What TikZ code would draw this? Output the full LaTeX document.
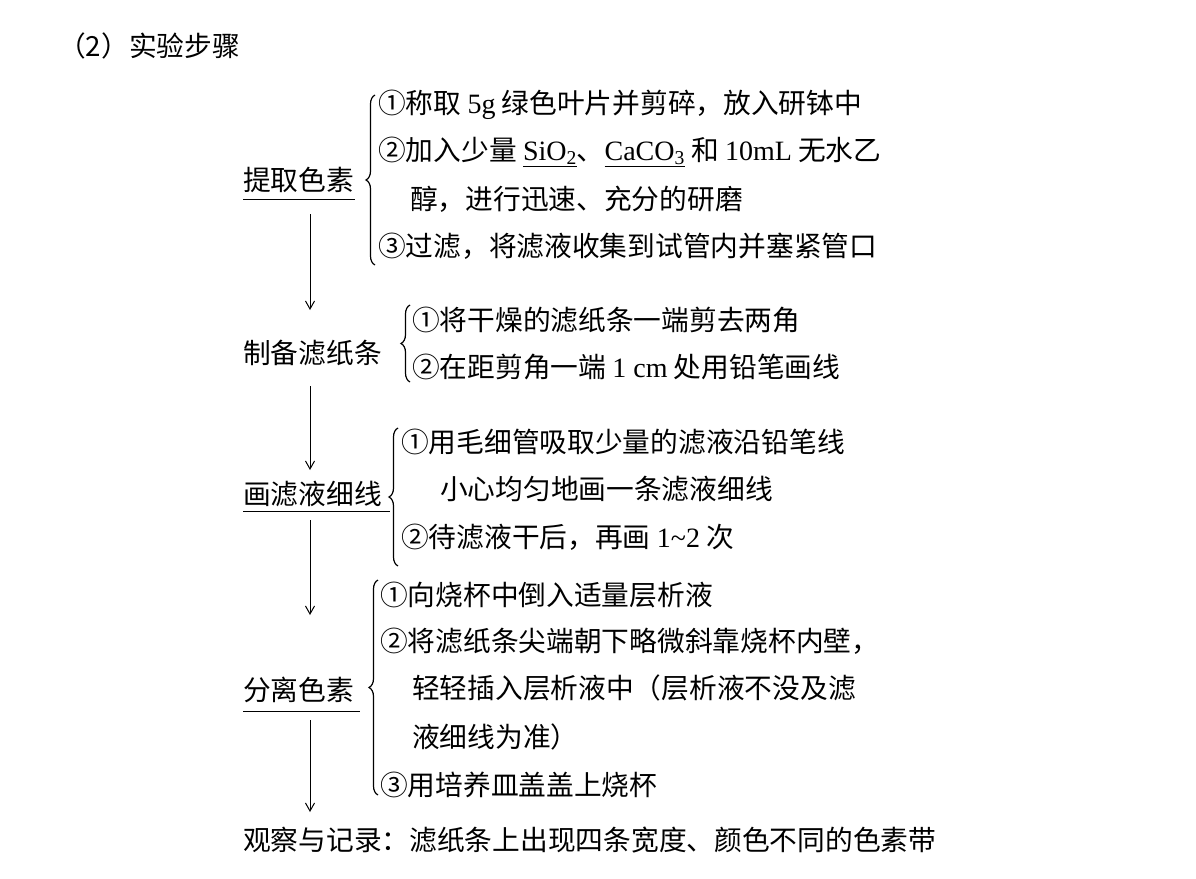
\documentclass[tikz,border=0pt]{standalone}
\usepackage{fontspec}
\setmainfont{Liberation Serif}
\newfontfamily\cjk{Noto Sans CJK SC}[Scale=0.99]
\usetikzlibrary{arrows.meta,decorations.pathreplacing}
\begin{document}
\begin{tikzpicture}[x=1pt,y=-1pt,
 t/.style={anchor=west,inner sep=0pt,font=\fontsize{28}{32}\selectfont\cjk},
 br/.style={decorate,decoration={brace,amplitude=9pt,mirror},line width=1.2pt},
 ar/.style={-{Straight Barb[length=8pt,width=9pt]},line width=1pt},
 ul/.style={line width=1pt}]
\useasboundingbox (0,0) rectangle (1196,878);
\node[t] (h) at (58,46) {（2）实验步骤};
% step 1
\node[t] (s1) at (243,180) {提取色素};
\draw[ul] (243,199) -- (355,199);
\draw[br] (375,95) -- (375,265);
\node[t] (a1) at (378,105) {①称取 {\rmfamily 5g} 绿色叶片并剪碎，放入研钵中};
\node[t] (a2) at (378,152) {②加入少量 \underline{\rmfamily SiO\textsubscript{2}}、\underline{\rmfamily CaCO\textsubscript{3}} 和 {\rmfamily 10mL} 无水乙};
\node[t] (a3) at (410,199) {醇，进行迅速、充分的研磨};
\node[t] (a4) at (378,246) {③过滤，将滤液收集到试管内并塞紧管口};
% step 2
\node[t] (s2) at (243,353) {制备滤纸条};
\draw[br] (410,305) -- (410,382);
\node[t] (b1) at (412,320) {①将干燥的滤纸条一端剪去两角};
\node[t] (b2) at (412,367) {②在距剪角一端 {\rmfamily 1 cm} 处用铅笔画线};
% step 3
\node[t] (s3) at (243,494) {画滤液细线};
\draw[ul] (243,511) -- (390,511);
\draw[br] (398,428) -- (398,566);
\node[t] (c1) at (401,442) {①用毛细管吸取少量的滤液沿铅笔线};
\node[t] (c2) at (440,489) {小心均匀地画一条滤液细线};
\node[t] (c3) at (401,537) {②待滤液干后，再画 {\rmfamily 1\textasciitilde2} 次};
% step 4
\node[t] (s4) at (243,690) {分离色素};
\draw[ul] (243,711) -- (360,711);
\draw[br] (378,580) -- (378,795);
\node[t] (d1) at (380,595) {①向烧杯中倒入适量层析液};
\node[t] (d2) at (380,641) {②将滤纸条尖端朝下略微斜靠烧杯内壁，};
\node[t] (d3) at (412,688) {轻轻插入层析液中（层析液不没及滤};
\node[t] (d4) at (412,737) {液细线为准）};
\node[t] (d5) at (380,785) {③用培养皿盖盖上烧杯};
% result
\node[t] (r) at (243,840) {观察与记录：滤纸条上出现四条宽度、颜色不同的色素带};
% arrows
\draw[ar] (310,214) -- (310,310);
\draw[ar] (310,386) -- (310,470);
\draw[ar] (310,520) -- (310,615);
\draw[ar] (310,720) -- (310,812);
\end{tikzpicture}
\end{document}
